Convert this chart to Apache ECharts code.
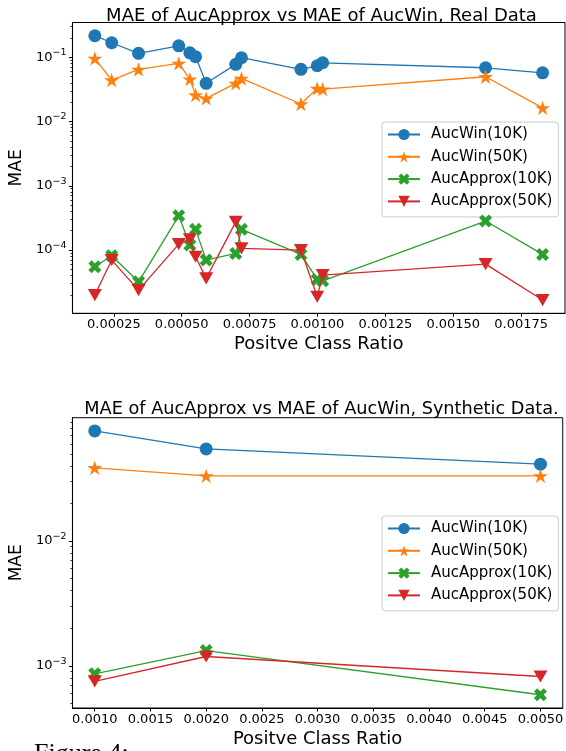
<!DOCTYPE html>
<html>
<head>
<meta charset="utf-8">
<script src="https://cdn.jsdelivr.net/npm/echarts@6/dist/echarts.min.js"></script>
<style>
  html, body { margin: 0; padding: 0; background: #ffffff; }
  #chart { width: 566px; height: 751px; }
</style>
</head>
<body>
<div id="chart"></div>
<script>
"use strict";

// Real data (top panel)
var realRatio = [0.000180, 0.000242, 0.000341, 0.000489, 0.000530, 0.000551, 0.000590,
                 0.000699, 0.000720, 0.000939, 0.000999, 0.001019, 0.001619, 0.001829];
var realWin10 = [0.2155, 0.1675, 0.1146, 0.150, 0.117, 0.1014, 0.0392,
                 0.0773, 0.098, 0.0646, 0.0735, 0.0818, 0.0684, 0.0571];
var realWin50 = [0.0957, 0.0441, 0.0646, 0.0802, 0.0456, 0.0258, 0.0229,
                 0.0392, 0.0468, 0.0187, 0.0327, 0.0319, 0.0496, 0.0163];
var realApprox10 = [5.5e-5, 8.15e-5, 3.21e-5, 3.41e-4, 1.196e-4, 2.10e-4, 6.99e-5,
                    8.88e-5, 2.10e-4, 8.57e-5, 3.50e-5, 3.33e-5, 2.83e-4, 8.57e-5];
var realApprox50 = [2.0e-5, 6.99e-5, 2.39e-5, 1.24e-4, 1.466e-4, 7.87e-5, 3.63e-5,
                    2.75e-4, 1.06e-4, 1.0e-4, 1.88e-5, 4.08e-5, 6.05e-5, 1.67e-5];

// Synthetic data (bottom panel)
var synRatio = [0.001, 0.002, 0.005];
var synWin10 = [0.0762, 0.0547, 0.0413];
var synWin50 = [0.0386, 0.0333, 0.0333];
var synApprox10 = [8.63e-4, 1.325e-3, 5.86e-4];
var synApprox50 = [7.49e-4, 1.187e-3, 8.21e-4];

var seriesNames = ['AucWin(10K)', 'AucWin(50K)', 'AucApprox(10K)', 'AucApprox(50K)'];
var colors = ['#1f77b4', '#ff7f0e', '#2ca02c', '#d62728'];

var realXTicks = [0.00025, 0.0005, 0.00075, 0.001, 0.00125, 0.0015, 0.00175];
var synXTicks = [0.001, 0.0015, 0.002, 0.0025, 0.003, 0.0035, 0.004, 0.0045, 0.005];
var realYTicks = [1e-4, 1e-3, 1e-2, 1e-1];
var synYTicks = [1e-3, 1e-2];

var FONT = 'DejaVu Sans';

var starPath = 'path://M50,0L61.23,34.55L97.55,34.55L68.17,55.9L79.39,90.45L50,69.1L20.61,90.45L31.83,55.9L2.45,34.55L38.77,34.55Z';
var xPath = 'path://M212,0L283,71L212,141L283,212L212,283L141,212L71,283L0,212L71,141L0,71L71,0L141,71Z';
var triPath = 'path://M0,0L100,0L50,87Z';
var symbols = ['circle', starPath, xPath, triPath];
var symbolSizes = [13, 15, 13, 14];

// minor log ticks 2..9 x 10^n inside [lo, hi]
function minorTicks(lo, hi) {
  var out = [];
  for (var e = -6; e <= 1; e++) {
    for (var m = 2; m <= 9; m++) {
      var v = m * Math.pow(10, e);
      if (v > lo && v < hi) out.push(v);
    }
  }
  return out;
}

function sciLabel(v) {
  var e = Math.round(Math.log10(v));
  return '{b|10}{s|' + (e < 0 ? '\u2212' : '') + Math.abs(e) + '}';
}

var labelRich = {
  b: { fontFamily: FONT, fontSize: 13, color: '#000' },
  s: { fontFamily: FONT, fontSize: 9.5, color: '#000', padding: [0, 0, 9, 0] }
};

function pairs(xs, ys) {
  return xs.map(function (x, i) { return [x, ys[i]]; });
}

function makeSeries(xs, ysList, gi) {
  return ysList.map(function (ys, k) {
    return {
      name: seriesNames[k],
      type: 'line',
      xAxisIndex: gi,
      yAxisIndex: gi * 2,
      data: pairs(xs, ys),
      symbol: symbols[k],
      symbolSize: symbolSizes[k],
      symbolKeepAspect: true,
      showAllSymbol: true,
      color: colors[k],
      lineStyle: { width: 1.3, color: colors[k] },
      itemStyle: { color: colors[k] },
      emphasis: { disabled: true },
      animation: false,
      z: 2 + k
    };
  });
}

var realYMin = 1.04e-5, realYMax = 0.346;
var synYMin = 4.59e-4, synYMax = 0.0973;

function yAxes(gi, lo, hi, ticks) {
  return [{
    type: 'log',
    gridIndex: gi,
    position: 'left',
    min: lo,
    max: hi,
    name: 'MAE',
    nameLocation: 'middle',
    nameGap: 43,
    nameTextStyle: { fontFamily: FONT, fontSize: 17, color: '#000' },
    axisLine: { show: true, lineStyle: { color: '#000', width: 1 } },
    axisTick: { show: true, inside: false, length: 3.5, customValues: ticks, lineStyle: { color: '#000' } },
    axisLabel: { customValues: ticks, formatter: sciLabel, rich: labelRich, margin: 6 },
    splitLine: { show: false }
  }, {
    type: 'log',
    gridIndex: gi,
    position: 'left',
    offset: 0,
    min: lo,
    max: hi,
    axisLine: { show: false },
    axisTick: { show: true, inside: false, length: 2, customValues: minorTicks(lo, hi), lineStyle: { color: '#000', width: 0.8 } },
    axisLabel: { show: false },
    splitLine: { show: false }
  }];
}

function xAxis(gi, lo, hi, ticks, digits) {
  return {
    type: 'value',
    gridIndex: gi,
    min: lo,
    max: hi,
    name: 'Positve Class Ratio',
    nameLocation: 'middle',
    nameGap: 22,
    nameTextStyle: { fontFamily: FONT, fontSize: 18, color: '#000' },
    axisLine: { show: true, onZero: false, lineStyle: { color: '#000', width: 1 } },
    axisTick: { show: true, length: 3.5, customValues: ticks, lineStyle: { color: '#000' } },
    axisLabel: {
      customValues: ticks,
      fontFamily: FONT, fontSize: 13, color: '#000', margin: 5,
      formatter: function (v) { return v.toFixed(digits); }
    },
    splitLine: { show: false }
  };
}

function legend(top) {
  return {
    data: seriesNames,
    orient: 'vertical',
    left: 382,
    top: top,
    padding: [5, 6, 8, 5],
    itemWidth: 32,
    itemHeight: 14,
    itemGap: 7.3,
    borderColor: '#cccccc',
    borderWidth: 1,
    borderRadius: 3,
    backgroundColor: 'rgba(255,255,255,0.8)',
    selectedMode: false,
    textStyle: { fontFamily: FONT, fontSize: 15, color: '#000', padding: [0, 0, 0, 6] }
  };
}

var chart = echarts.init(document.getElementById('chart'), null, { renderer: 'canvas' });

var option = {
  backgroundColor: '#ffffff',
  animation: false,
  title: [{
    text: 'MAE of AucApprox vs MAE of AucWin, Real Data',
    left: 316.5, top: 2, textAlign: 'center',
    textStyle: { fontFamily: FONT, fontSize: 18, fontWeight: 'normal', color: '#000' }
  }, {
    text: 'MAE of AucApprox vs MAE of AucWin, Synthetic Data.',
    left: 316.5, top: 395, textAlign: 'center',
    textStyle: { fontFamily: FONT, fontSize: 17.7, fontWeight: 'normal', color: '#000' }
  }],
  grid: [
    { left: 68, right: 1, top: 22.5, height: 290.8, show: true, borderColor: '#000', borderWidth: 1, backgroundColor: 'transparent' },
    { left: 68, right: 1, top: 417.7, height: 290.3, show: true, borderColor: '#000', borderWidth: 1, backgroundColor: 'transparent' }
  ],
  legend: [legend(122), legend(516)],
  xAxis: [
    xAxis(0, 0.0000975, 0.0019115, realXTicks, 5),
    xAxis(1, 0.0008, 0.0052, synXTicks, 4)
  ],
  yAxis: yAxes(0, realYMin, realYMax, realYTicks).concat(yAxes(1, synYMin, synYMax, synYTicks)),
  series: makeSeries(realRatio, [realWin10, realWin50, realApprox10, realApprox50], 0)
    .concat(makeSeries(synRatio, [synWin10, synWin50, synApprox10, synApprox50], 1)),
  graphic: [{
    type: 'text',
    left: 34,
    top: 741,
    style: { text: 'Figure 4:', font: '26px "Liberation Serif"', fill: '#000' }
  }]
};

chart.setOption(option);
</script>
</body>
</html>
